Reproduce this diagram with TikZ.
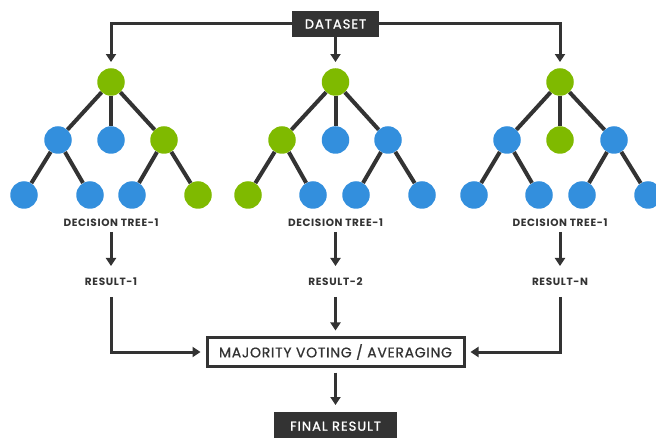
\documentclass[tikz,border=0pt]{standalone}
\usepackage{fontspec}
\setmainfont{Poppins}
\usetikzlibrary{arrows.meta}
\definecolor{dk}{HTML}{333333}
\definecolor{gr}{HTML}{7FBA00}
\definecolor{bl}{HTML}{338FDD}
\tikzset{
  g/.style={circle,fill=gr,minimum size=27.5pt,inner sep=0pt},
  b/.style={circle,fill=bl,minimum size=27.5pt,inner sep=0pt},
  edge/.style={draw=dk,line width=4pt},
  arr/.style={draw=dk,line width=3pt,-{Triangle[width=10pt,length=8pt]}},
  lbl/.style={font=\bfseries\fontsize{10.5}{11}\selectfont\addfontfeature{LetterSpace=6},text=dk,inner sep=1pt},
  darkbox/.style={fill=dk,text=white,font=\fontsize{13}{14}\selectfont\addfontfeature{LetterSpace=8,FakeBold=1.2},inner sep=0pt},
}
\begin{document}
\begin{tikzpicture}[x=1pt,y=-1pt]
\useasboundingbox (0,0) rectangle (656,438);
% dataset
\node[darkbox,minimum width=87pt,minimum height=26pt] (ds) at (335.5,24) {DATASET};
% tree 1
\node[g] (a0) at (111,82) {};
\node[b] (a1) at (58,140) {};
\node[b] (a2) at (111,140) {};
\node[g] (a3) at (164,140) {};
\node[b] (a4) at (24,195) {};
\node[b] (a5) at (90,195) {};
\node[b] (a6) at (132,195) {};
\node[g] (a7) at (198,195) {};
% tree 2
\node[g] (b0) at (335.5,82) {};
\node[g] (b1) at (282,140) {};
\node[b] (b2) at (335.5,140) {};
\node[b] (b3) at (388,140) {};
\node[g] (b4) at (248,195) {};
\node[b] (b5) at (313,195) {};
\node[b] (b6) at (356,195) {};
\node[b] (b7) at (422,195) {};
% tree 3
\node[g] (c0) at (560,82) {};
\node[b] (c1) at (507,140) {};
\node[g] (c2) at (560,140) {};
\node[b] (c3) at (614,140) {};
\node[b] (c4) at (474,195) {};
\node[b] (c5) at (539,195) {};
\node[b] (c6) at (582,195) {};
\node[b] (c7) at (648,195) {};
\foreach \t in {a,b,c}{
  \draw[edge] (\t0) -- (\t1);
  \draw[edge] (\t0) -- (\t2);
  \draw[edge] (\t0) -- (\t3);
  \draw[edge] (\t1) -- (\t4);
  \draw[edge] (\t1) -- (\t5);
  \draw[edge] (\t3) -- (\t6);
  \draw[edge] (\t3) -- (\t7);
}
% dataset arrows
\draw[arr] (ds.west) -| ([yshift=6pt]a0.north);
\draw[arr] (ds.south) -- ([yshift=6pt]b0.north);
\draw[arr] (ds.east) -| ([yshift=6pt]c0.north);
% labels
\node[lbl] (t1) at (111,223) {DECISION TREE-1};
\node[lbl] (t2) at (335.5,223) {DECISION TREE-1};
\node[lbl] (t3) at (560,223) {DECISION TREE-1};
\node[lbl] (r1) at (111,282) {RESULT-1};
\node[lbl] (r2) at (335.5,282) {RESULT-2};
\node[lbl] (r3) at (560,282) {RESULT-N};
\draw[arr] ([yshift=-9pt]t1.center) -- ([yshift=16pt]r1.center);
\draw[arr] ([yshift=-9pt]t2.center) -- ([yshift=16pt]r2.center);
\draw[arr] ([yshift=-9pt]t3.center) -- ([yshift=16pt]r3.center);
% majority
\node[draw=dk,line width=3pt,fill=white,minimum width=257pt,minimum height=28pt,inner sep=0pt,
      font=\fontsize{14}{15}\selectfont\addfontfeature{LetterSpace=5,FakeBold=0.8},text=dk] (mj) at (335.5,352) {MAJORITY VOTING / AVERAGING};
\draw[arr] ([yshift=-15pt]r1.center) |- ([xshift=-5pt]mj.west);
\draw[arr] ([yshift=-15pt]r3.center) |- ([xshift=5pt]mj.east);
\draw[arr] ([yshift=-15pt]r2.center) -- ([yshift=6pt]mj.north);
% final
\node[darkbox,minimum width=123pt,minimum height=28pt,anchor=north] (fr) at (335.5,412) {FINAL RESULT};
\draw[arr] ([yshift=-5pt]mj.south) -- ([yshift=7pt]fr.north);
\end{tikzpicture}
\end{document}
